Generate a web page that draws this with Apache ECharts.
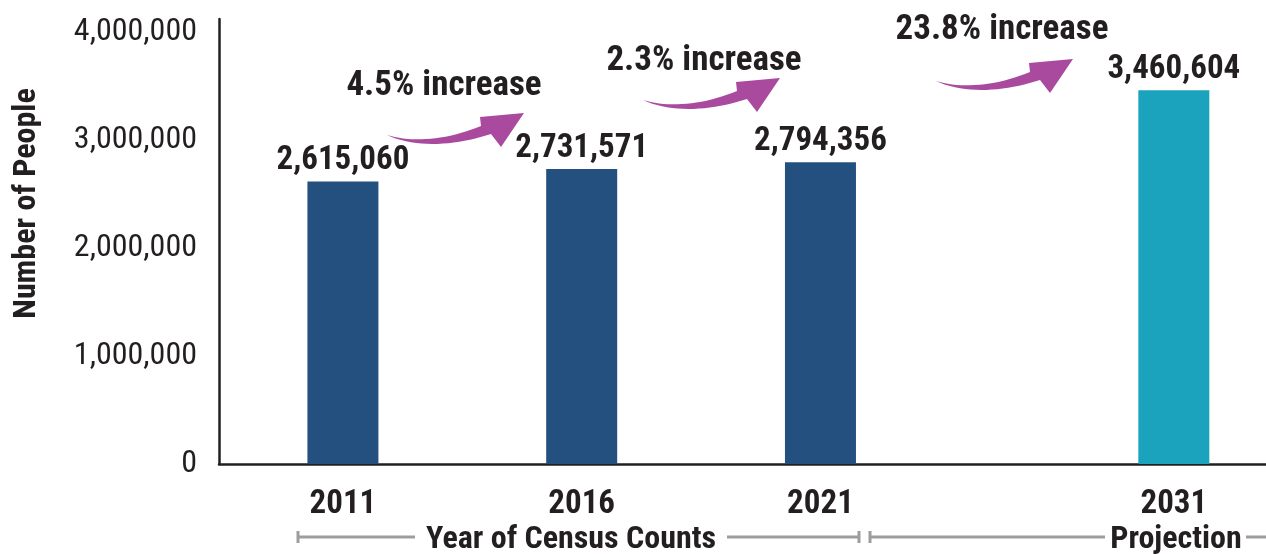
<!DOCTYPE html>
<html><head><meta charset="utf-8">
<script src="https://cdn.jsdelivr.net/npm/echarts@6/dist/echarts.min.js"></script>
<style>html,body{margin:0;padding:0;background:#fff}#c{width:1266px;height:554px}</style>
</head><body><div id="c"></div>
<script>
// ---- data ----
const categories = ['2011', '2016', '2021', '2031'];
const population = [2615060, 2731571, 2794356, 3460604];
const isProjection = [false, false, false, true];
const yTicks = [0, 1000000, 2000000, 3000000, 4000000];
const groupLabels = ['Year of Census Counts', 'Projection'];
const yAxisTitle = 'Number of People';

// ---- style / layout ----
const FONT = '"Roboto Condensed","Liberation Sans Narrow","DejaVu Sans Condensed",Roboto,sans-serif';
const INK = '#231f20', BLUE = '#23507f', TEAL = '#1ba2bc', PURPLE = '#a94a9f', GREY = '#9d9d9f';
const PROJ_GAP = 0.96;
const slot = i => 2 * i + (isProjection[i] ? PROJ_GAP : 0);
const slots = categories.map((c, i) => slot(i));
const fmt = v => Number(v).toLocaleString('en-US');
const increases = population.slice(1).map((v, i) => ((v / population[i] - 1) * 100).toFixed(1) + '% increase');

const chart = echarts.init(document.getElementById('c'), null, {renderer: 'canvas'});

// arrow outline (relative to its tail), sampled from cubic curves
function cubic(p0, p1, p2, p3, n) {
  const out = [];
  for (let k = 0; k <= n; k++) {
    const t = k / n, u = 1 - t;
    out.push([
      u*u*u*p0[0] + 3*u*u*t*p1[0] + 3*u*t*t*p2[0] + t*t*t*p3[0],
      u*u*u*p0[1] + 3*u*u*t*p1[1] + 3*u*t*t*p2[1] + t*t*t*p3[1]
    ]);
  }
  return out;
}
const arrowShape = [].concat(
  cubic([0, 0], [25, 8], [60, 5], [94, -9], 20),
  [[93, -18], [137, -22], [114, 12]],
  cubic([104, -1], [70, 10], [30, 14], [0, 0], 20)
);
const arrowTails = [[387, 135], [643, 100], [936, 81]];
const incCenters = [[444, 86], [704, 61], [1002, 30]];

const graphics = [];
arrowTails.forEach(p => graphics.push({
  type: 'polygon', x: p[0], y: p[1], shape: {points: arrowShape},
  style: {fill: PURPLE}, silent: true
}));
incCenters.forEach((p, i) => graphics.push({
  type: 'text', x: p[0], y: p[1],
  style: {text: increases[i], font: 'bold 35px ' + FONT, fill: INK, align: 'center', verticalAlign: 'middle'}
}));
// group brackets
const line = (x1, y1, x2, y2) => ({type: 'line', shape: {x1, y1, x2, y2}, style: {stroke: GREY, lineWidth: 3}, silent: true});
const BY = 537;
graphics.push(line(298, BY, 415, BY), line(298, BY - 6, 298, BY + 6));
graphics.push(line(727, BY, 859, BY), line(859, BY - 6, 859, BY + 6));
graphics.push(line(870, BY, 1105, BY), line(870, BY - 6, 870, BY + 6));
graphics.push(line(1246, BY, 1266, BY));
graphics.push({type: 'text', x: 571, y: 540, style: {text: groupLabels[0], font: 'bold 32px ' + FONT, fill: INK, align: 'center', verticalAlign: 'middle'}});
graphics.push({type: 'text', x: 1176, y: 540, style: {text: groupLabels[1], font: 'bold 32px ' + FONT, fill: INK, align: 'center', verticalAlign: 'middle'}});

const option = {
  animation: false,
  backgroundColor: '#fff',
  grid: {left: 219, right: 0, top: 19, bottom: 90, containLabel: false, outerBoundsMode: 'none'},
  xAxis: {
    type: 'value', min: -1.038, max: 7.732,
    axisLine: {show: true, onZero: false, lineStyle: {color: INK, width: 2.5}},
    axisTick: {show: false}, splitLine: {show: false},
    axisLabel: {
      customValues: slots,
      formatter: v => { const i = slots.findIndex(s => Math.abs(s - v) < 1e-6); return i >= 0 ? categories[i] : ''; },
      color: INK, fontFamily: FONT, fontWeight: 'bold', fontSize: 33, margin: 24
    }
  },
  yAxis: {
    type: 'value', min: 0, max: 4120370,
    name: yAxisTitle, nameLocation: 'middle', nameRotate: 90, nameGap: 176,
    nameTextStyle: {fontFamily: FONT, fontWeight: 'bold', fontSize: 32, color: INK, padding: [0, 0, 0, 76]},
    axisLine: {show: true, onZero: false, lineStyle: {color: INK, width: 2.5}},
    axisTick: {show: false}, splitLine: {show: false},
    axisLabel: {customValues: yTicks, formatter: v => fmt(v), color: INK, fontFamily: FONT, fontSize: 32, margin: 22, padding: [0, 0, 6, 0]}
  },
  series: [{
    type: 'bar', barWidth: 71, z: 3,
    data: population.map((v, i) => ({value: [slots[i], v], itemStyle: {color: isProjection[i] ? TEAL : BLUE}})),
    label: {show: true, position: 'top', distance: 4, formatter: p => fmt(p.value[1]),
      color: INK, fontFamily: FONT, fontWeight: 'bold', fontSize: 33}
  }],
  graphic: graphics
};
chart.setOption(option);
</script></body></html>
